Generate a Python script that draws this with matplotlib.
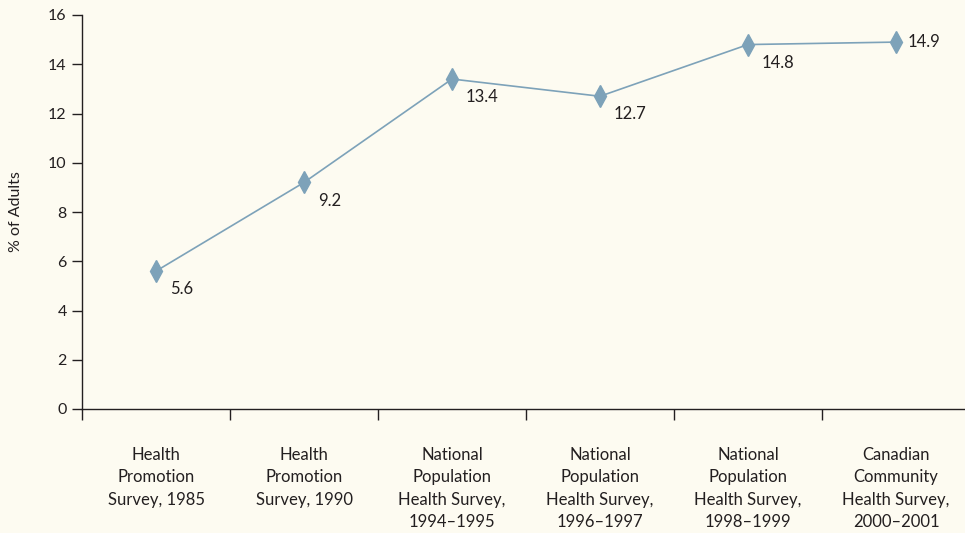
import numpy as np
import matplotlib.pyplot as plt

# survey categories and share of adults (%)
categories = [
    'Health\nPromotion\nSurvey, 1985',
    'Health\nPromotion\nSurvey, 1990',
    'National\nPopulation\nHealth Survey,\n1994\u20131995',
    'National\nPopulation\nHealth Survey,\n1996\u20131997',
    'National\nPopulation\nHealth Survey,\n1998\u20131999',
    'Canadian\nCommunity\nHealth Survey,\n2000\u20132001',
]
values = [5.6, 9.2, 13.4, 12.7, 14.8, 14.9]
y_ticks = [0, 2, 4, 6, 8, 10, 12, 14, 16]

bg = '#fdfbf1'
line_col = '#7da2b9'
txt = '#231f20'

plt.rcParams['font.family'] = ['Lato', 'DejaVu Sans']

fig = plt.figure(figsize=(9.65, 5.33), dpi=100, facecolor=bg)
ax = fig.add_axes([82 / 965, 1 - 409 / 533, 888 / 965, (409 - 15) / 533])
ax.set_facecolor(bg)

x = np.arange(len(values))
ax.plot(x, values, color=line_col, lw=1.2, marker='d', ms=11,
        mfc=line_col, mec=line_col, clip_on=False)

# value labels
for i, v in enumerate(values):
    if i == len(values) - 1:
        ax.annotate(f'{v}', (i, v), xytext=(8, 0), textcoords='offset points',
                    ha='left', va='center', fontsize=12, color=txt)
    else:
        ax.annotate(f'{v}', (i, v), xytext=(10, -13), textcoords='offset points',
                    ha='left', va='center', fontsize=12, color=txt)

ax.set_xlim(-0.5, len(values) - 0.5)
ax.set_ylim(0, 16)
ax.set_yticks(y_ticks)
ax.tick_params(axis='y', direction='out', length=7, width=1, colors=txt,
               labelsize=11.5, pad=4)

# category labels in the middle, tick marks at the boundaries
ax.set_xticks(x)
ax.set_xticklabels(categories, fontsize=12, color=txt, linespacing=1.5, va='top')
ax.tick_params(axis='x', which='major', length=0, pad=27)
ax.set_xticks(np.arange(len(values) + 1) - 0.5, minor=True)
ax.tick_params(axis='x', which='minor', direction='out', length=8, width=1, colors=txt)

for s in ['top', 'right']:
    ax.spines[s].set_visible(False)
for s in ['left', 'bottom']:
    ax.spines[s].set_color(txt)
    ax.spines[s].set_linewidth(1)

ax.set_ylabel('% of Adults', fontsize=11.5, color=txt, labelpad=18)

fig.savefig('out.png', dpi=100, facecolor=bg)
